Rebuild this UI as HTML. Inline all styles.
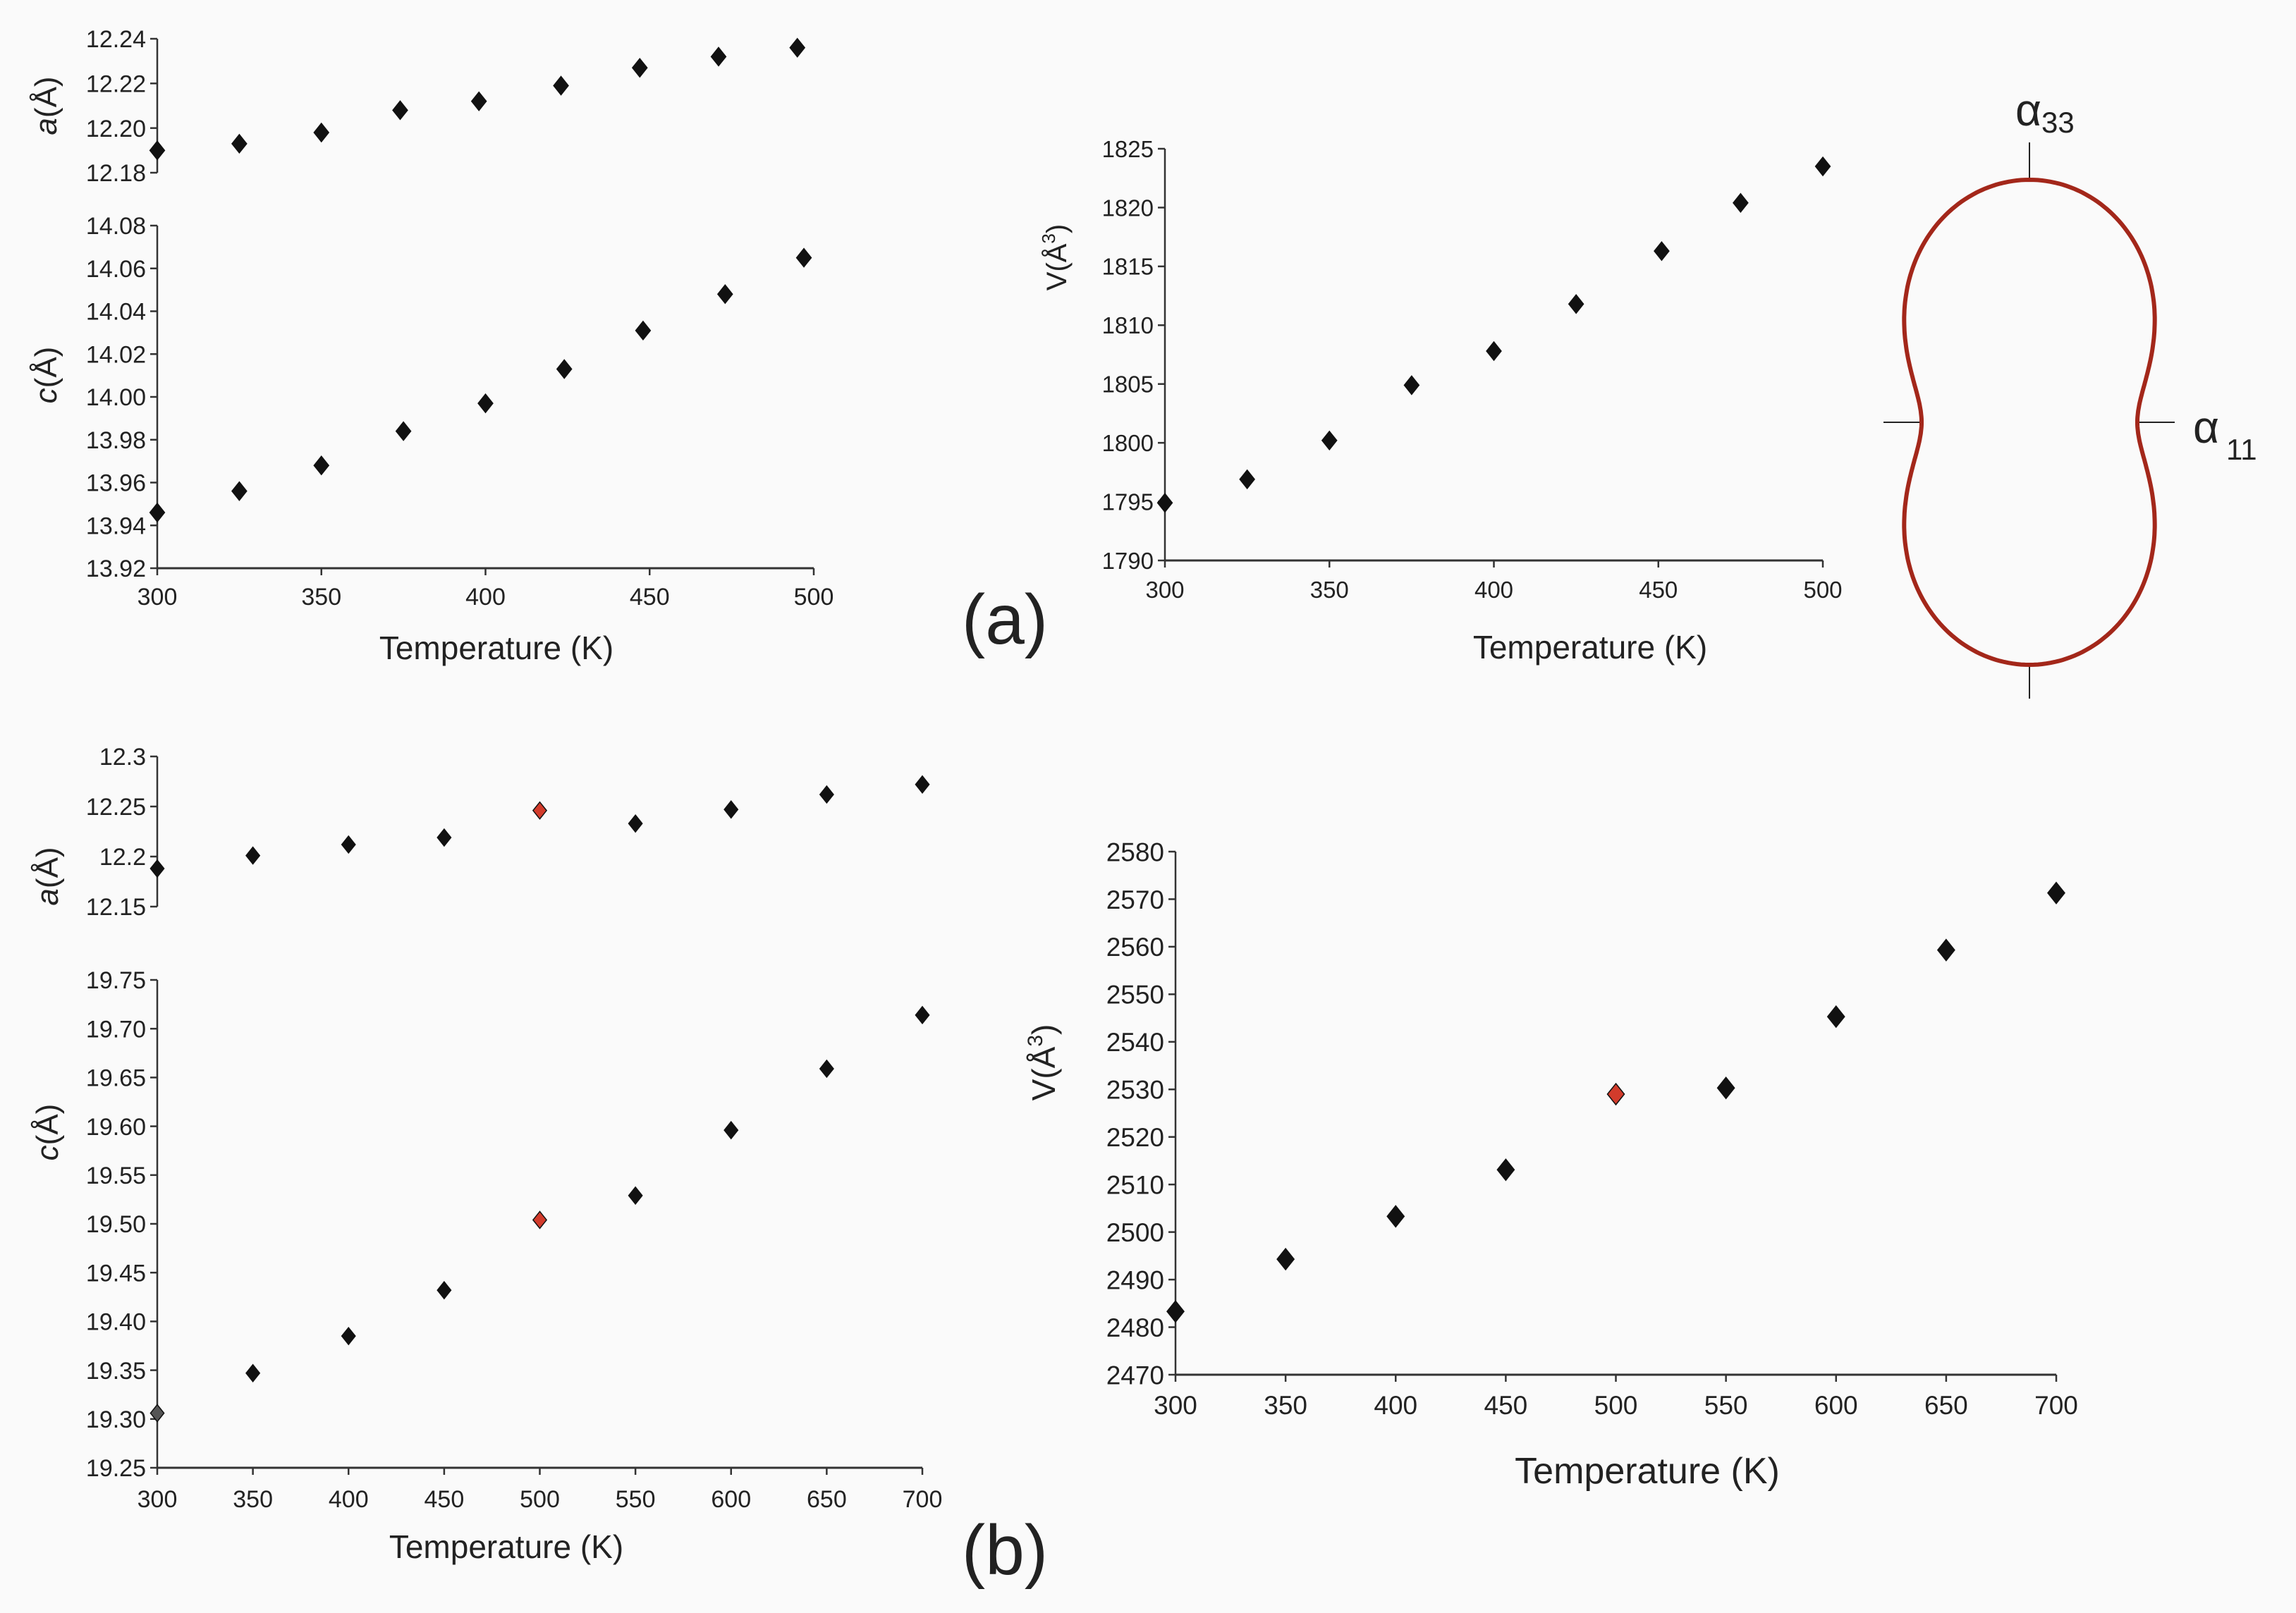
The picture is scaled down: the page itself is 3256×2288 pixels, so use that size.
<!DOCTYPE html>
<html><head><meta charset="utf-8">
<style>
html,body{margin:0;padding:0;background:#fafafa;}
svg{display:block;font-family:"Liberation Sans",Arial,sans-serif;}
</style></head>
<body>
<svg id="fig" width="3256" height="2288" viewBox="0 0 3256 2288" xmlns="http://www.w3.org/2000/svg">
<rect x="0" y="0" width="3256" height="2288" fill="#fafafa"/>
<g id="marks"></g>
<text x="1425" y="913" font-size="100" text-anchor="middle" fill="#222">(a)</text>
<text x="1425" y="2233" font-size="100" text-anchor="middle" fill="#222">(b)</text>
<g>
<line x1="2878" y1="202" x2="2878" y2="255" stroke="#222" stroke-width="2"/>
<line x1="2878" y1="943" x2="2878" y2="991" stroke="#222" stroke-width="2"/>
<line x1="2671" y1="599" x2="2725" y2="599" stroke="#222" stroke-width="2"/>
<line x1="3032" y1="599" x2="3084" y2="599" stroke="#222" stroke-width="2"/>
<path id="peanut" fill="none" stroke="#a3271a" stroke-width="6"/>
<text x="2858" y="178" font-size="64" fill="#222">α<tspan font-size="42" dy="10">33</tspan></text>
<text x="3110" y="628" font-size="64" fill="#222">α<tspan font-size="42" dy="24" dx="10">11</tspan></text>
</g>
</svg>
<script>
// ---- data ----
const aT_a = [300,325,350,374,398,423,447,471,495];
const aVal_a = [12.190,12.193,12.198,12.208,12.212,12.219,12.227,12.232,12.236];
const cT_a = [300,325,350,375,400,424,448,473,497];
const cVal_a = [13.946,13.956,13.968,13.984,13.997,14.013,14.031,14.048,14.065];
const vT_a = [300,325,350,375,400,425,451,475,500];
const vVal_a = [1794.9,1796.9,1800.2,1804.9,1807.8,1811.8,1816.3,1820.4,1823.5];
const T_b = [300,350,400,450,500,550,600,650,700];
const aVal_b = [12.188,12.201,12.212,12.219,12.246,12.233,12.247,12.262,12.272];
const cVal_b = [19.306,19.347,19.385,19.432,19.504,19.529,19.596,19.659,19.714];
const vVal_b = [2483.3,2494.3,2503.3,2513.1,2529.0,2530.3,2545.3,2559.3,2571.3];
const colors_b = ['#111','#111','#111','#111','#d23b2b','#111','#111','#111','#111'];
const colorsC_b = ['#555','#111','#111','#111','#d23b2b','#111','#111','#111','#111'];
const aTicks_a = ['12.18','12.20','12.22','12.24'];
const cTicks_a = ['13.92','13.94','13.96','13.98','14.00','14.02','14.04','14.06','14.08'];
const vTicks_a = ['1790','1795','1800','1805','1810','1815','1820','1825'];
const aTicks_b = ['12.15','12.2','12.25','12.3'];
const cTicks_b = ['19.25','19.30','19.35','19.40','19.45','19.50','19.55','19.60','19.65','19.70','19.75'];
const vTicks_b = ['2470','2480','2490','2500','2510','2520','2530','2540','2550','2560','2570','2580'];
const xTicks_a = ['300','350','400','450','500'];
const xTicks_b = ['300','350','400','450','500','550','600','650','700'];

const NS='http://www.w3.org/2000/svg';
const root=document.getElementById('marks');
function el(tag,attrs,parent){const e=document.createElementNS(NS,tag);for(const k in attrs)e.setAttribute(k,attrs[k]);(parent||root).appendChild(e);return e;}

function plot(cfg){
  const g=el('g',{});
  
  
  const ymin=parseFloat(cfg.yt[0]), ymax=parseFloat(cfg.yt[cfg.yt.length-1]);
  const sy=v=>cfg.y1+(v-ymin)/(ymax-ymin)*(cfg.y0-cfg.y1);
  const sx=v=>cfg.x0+(v-cfg.xmin)/(cfg.xmax-cfg.xmin)*(cfg.x1-cfg.x0);
  const ax=el('line',{x1:cfg.x0,y1:cfg.y0,x2:cfg.x0,y2:cfg.y1,stroke:'#333','stroke-width':2.5},g);
  
  
  cfg.yt.forEach(t=>{
    const y=sy(parseFloat(t));
    el('line',{x1:cfg.x0-10,y1:y,x2:cfg.x0,y2:y,stroke:'#333','stroke-width':2.5},g);
    const tx=el('text',{x:cfg.x0-16,y:y+cfg.fs*0.36,'font-size':cfg.fs,'text-anchor':'end',fill:'#222'},g);
    tx.textContent=t;
    
    
  });
  if(cfg.xt){
    const xa=el('line',{x1:cfg.x0,y1:cfg.y1,x2:cfg.x1,y2:cfg.y1,stroke:'#333','stroke-width':3},g);
    
    
    cfg.xt.forEach(t=>{
      const x=sx(parseFloat(t));
      el('line',{x1:x,y1:cfg.y1,x2:x,y2:cfg.y1+10,stroke:'#333','stroke-width':2.5},g);
      const tx=el('text',{x:x,y:cfg.xly,'font-size':cfg.fs,'text-anchor':'middle',fill:'#222'},g);
      tx.textContent=t;
      
      
    });
    const tt=el('text',{x:cfg.tx,y:cfg.ty,'font-size':cfg.tfs,'text-anchor':'middle',fill:'#222'},g);
    tt.textContent='Temperature (K)';
    
    
  }
  const yl=el('text',{x:0,y:0,'font-size':cfg.yfs,'text-anchor':'middle',fill:'#222',transform:`translate(${cfg.ylx},${cfg.yly}) rotate(-90)`},g);
  yl.innerHTML=cfg.ylab;
  
  
  cfg.xs.forEach((xv,i)=>{
    const x=sx(xv), y=sy(cfg.ys[i]), r=cfg.ms;
    const p=el('path',{d:`M${x},${y-r}L${x+r*0.8},${y}L${x},${y+r}L${x-r*0.8},${y}Z`,fill:cfg.cols?cfg.cols[i]:'#111',stroke:'#111','stroke-width':1.5},g);
    
    
  });
}
// panel (a)
plot({name:'a-lattice-plot-a',x0:223,x1:1154,xmin:300,xmax:500,y0:55,y1:245,yt:aTicks_a,xs:aT_a,ys:aVal_a,fs:34,yfs:44,ylx:80,yly:150,ylab:'<tspan font-style="italic">a</tspan>(Å)',ms:13});
plot({name:'c-lattice-plot-a',x0:223,x1:1154,xmin:300,xmax:500,y0:320,y1:806,yt:cTicks_a,xs:cT_a,ys:cVal_a,xt:xTicks_a,xly:858,fs:34,yfs:44,ylx:80,yly:532,ylab:'<tspan font-style="italic">c</tspan>(Å)',ms:13,tx:704,ty:935,tfs:46});
plot({name:'volume-plot-a',x0:1652,x1:2585,xmin:300,xmax:500,y0:211,y1:795,yt:vTicks_a,xs:vT_a,ys:vVal_a,xt:xTicks_a,xly:848,fs:33,yfs:40,ylx:1512,yly:365,ylab:'V(Å<tspan font-size="26" dy="-16">3</tspan><tspan dy="16">)</tspan>',ms:13,tx:2255,ty:934,tfs:46});
// panel (b)
plot({name:'a-lattice-plot-b',x0:223,x1:1308,xmin:300,xmax:700,y0:1073,y1:1286,yt:aTicks_b,xs:T_b,ys:aVal_b,cols:colors_b,fs:34,yfs:44,ylx:82,yly:1243,ylab:'<tspan font-style="italic">a</tspan>(Å)',ms:12});
plot({name:'c-lattice-plot-b',x0:223,x1:1308,xmin:300,xmax:700,y0:1390,y1:2082,yt:cTicks_b,xs:T_b,ys:cVal_b,cols:colorsC_b,xt:xTicks_b,xly:2138,fs:34,yfs:44,ylx:82,yly:1606,ylab:'<tspan font-style="italic">c</tspan>(Å)',ms:12,tx:718,ty:2210,tfs:46});
plot({name:'volume-plot-b',x0:1667,x1:2916,xmin:300,xmax:700,y0:1208,y1:1950,yt:vTicks_b,xs:T_b,ys:vVal_b,cols:colors_b,xt:xTicks_b,xly:2006,fs:37,yfs:46,ylx:1496,yly:1507,ylab:'V(Å<tspan font-size="30" dy="-18">3</tspan><tspan dy="18">)</tspan>',ms:15,tx:2336,ty:2104,tfs:52});

// indicatrix
(function(){
  const cx=2878, cy=599, r11=153, r33=344;
  let d='';
  for(let i=0;i<=360;i++){
    const th=i*Math.PI/180;
    const c=Math.cos(th), s=Math.sin(th);
    const r=r11+(r33-r11)*c*c;
    const x=cx+r*s, y=cy-r*c;
    d+=(i?'L':'M')+x.toFixed(1)+','+y.toFixed(1);
  }
  document.getElementById('peanut').setAttribute('d',d+'Z');
})();
</script>
</body></html>
